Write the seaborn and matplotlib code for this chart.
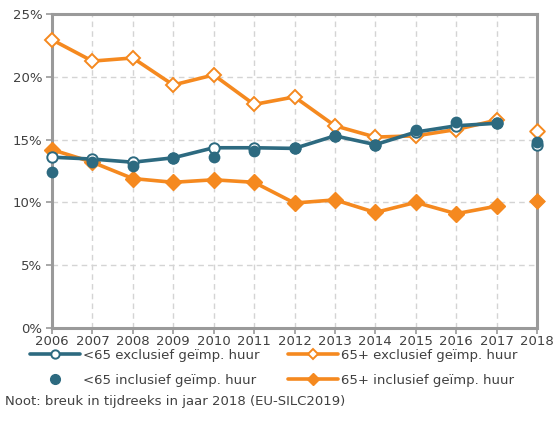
import matplotlib
matplotlib.use("Agg")
import matplotlib.pyplot as plt
import seaborn as sns
import pandas as pd
from matplotlib.lines import Line2D

years = [2006, 2007, 2008, 2009, 2010, 2011, 2012, 2013, 2014, 2015, 2016, 2017, 2018]
lt65_excl = [13.6, 13.45, 13.2, 13.55, 14.35, 14.35, 14.3, 15.3, 14.6, 15.6, 16.1, 16.3, 14.6]
lt65_incl = [12.4, 13.2, 12.9, 13.5, 13.6, 14.1, 14.3, 15.3, 14.6, 15.8, 16.4, 16.3, 14.8]
p65_excl = [22.95, 21.25, 21.5, 19.35, 20.15, 17.8, 18.4, 16.1, 15.2, 15.3, 15.8, 16.55, 15.65]
p65_incl = [14.2, 13.2, 11.9, 11.6, 11.8, 11.6, 9.95, 10.2, 9.2, 10.0, 9.1, 9.7, 10.1]
y_ticks = [0, 5, 10, 15, 20, 25]
labels = ["<65 exclusief geïmp. huur", "<65 inclusief geïmp. huur",
          "65+ exclusief geïmp. huur", "65+ inclusief geïmp. huur"]
note = "Noot: breuk in tijdreeks in jaar 2018 (EU-SILC2019)"

BLUE = "#2d6a80"
ORANGE = "#f5891f"
GRID = "#d4d4d4"
SPINE = "#9a9a9a"
TXT = "#404040"

sns.set_theme(style="white")
plt.rcParams["font.family"] = ["DejaVu Sans"]

df = pd.DataFrame({"year": years, "lt65_excl": lt65_excl, "lt65_incl": lt65_incl,
                   "p65_excl": p65_excl, "p65_incl": p65_incl})
main = df[df.year <= 2017]
brk = df[df.year == 2018]

fig = plt.figure(figsize=(5.55, 4.36), dpi=100)
ax = fig.add_axes([52/555, 1-328/436, (537-52)/555, (328-14)/436])

lw = 2.6
# orange 65+ exclusief (open diamonds)
sns.lineplot(data=main, x="year", y="p65_excl", ax=ax, color=ORANGE, lw=lw,
             marker="D", markersize=7.5, markerfacecolor="white",
             markeredgecolor=ORANGE, markeredgewidth=1.4, zorder=3)
sns.scatterplot(data=brk, x="year", y="p65_excl", ax=ax, marker="D", s=56,
                facecolor="white", edgecolor=ORANGE, linewidth=1.4, zorder=3)
# orange 65+ inclusief (filled diamonds)
sns.lineplot(data=main, x="year", y="p65_incl", ax=ax, color=ORANGE, lw=lw,
             marker="D", markersize=8, markerfacecolor=ORANGE,
             markeredgecolor=ORANGE, markeredgewidth=1, zorder=3)
sns.scatterplot(data=brk, x="year", y="p65_incl", ax=ax, marker="D", s=64,
                color=ORANGE, edgecolor=ORANGE, zorder=3)
# blue <65 exclusief (open circles)
sns.lineplot(data=main, x="year", y="lt65_excl", ax=ax, color=BLUE, lw=lw,
             marker="o", markersize=7.5, markerfacecolor="white",
             markeredgecolor=BLUE, markeredgewidth=1.4, zorder=4)
sns.scatterplot(data=brk, x="year", y="lt65_excl", ax=ax, marker="o", s=56,
                facecolor="white", edgecolor=BLUE, linewidth=1.4, zorder=4)
# blue <65 inclusief (dots only)
sns.scatterplot(data=df, x="year", y="lt65_incl", ax=ax, marker="o", s=72,
                color=BLUE, edgecolor=BLUE, linewidth=0, zorder=5)

for c in ax.collections:
    c.set_clip_on(False)
for l in ax.lines:
    l.set_clip_on(False)

ax.set_xlim(2006, 2018)
ax.set_ylim(0, 25)
ax.set_xticks(years)
ax.set_xticklabels([str(y) for y in years])
ax.set_yticks(y_ticks)
ax.set_yticklabels([f"{v}%" for v in y_ticks])
ax.set_xlabel("")
ax.set_ylabel("")
ax.grid(True, color=GRID, linestyle=(0, (4, 3)), linewidth=1)
ax.set_axisbelow(True)
for s in ax.spines.values():
    s.set_color(SPINE)
    s.set_linewidth(2.2)
    s.set_visible(True)
ax.tick_params(axis="both", colors=TXT, labelsize=9.5, length=4, width=1.2)
ax.tick_params(axis="x", bottom=True, pad=1, color=SPINE)
ax.tick_params(axis="y", left=True, pad=3, color=SPINE)
if ax.get_legend() is not None:
    ax.get_legend().remove()

handles = [
    Line2D([], [], color=BLUE, lw=lw, marker="o", markersize=6, markerfacecolor="white",
           markeredgecolor=BLUE, markeredgewidth=1.4),
    Line2D([], [], color=BLUE, lw=0, marker="o", markersize=7, markerfacecolor=BLUE,
           markeredgecolor=BLUE),
    Line2D([], [], color=ORANGE, lw=lw, marker="D", markersize=5.5, markerfacecolor="white",
           markeredgecolor=ORANGE, markeredgewidth=1.4),
    Line2D([], [], color=ORANGE, lw=lw, marker="D", markersize=6, markerfacecolor=ORANGE,
           markeredgecolor=ORANGE),
]
leg = fig.legend(handles, labels, ncol=2, loc="upper left",
                 bbox_to_anchor=(30/555, 1-349/436), frameon=False,
                 fontsize=9.5, handlelength=3.8, handletextpad=0.25,
                 columnspacing=2.1, labelspacing=0.9, borderaxespad=0, borderpad=0)
for t in leg.get_texts():
    t.set_color(TXT)

fig.text(5/555, 1-401/436, note, fontsize=9.5, color=TXT, va="center", ha="left")

fig.savefig("out.png", dpi=100)
